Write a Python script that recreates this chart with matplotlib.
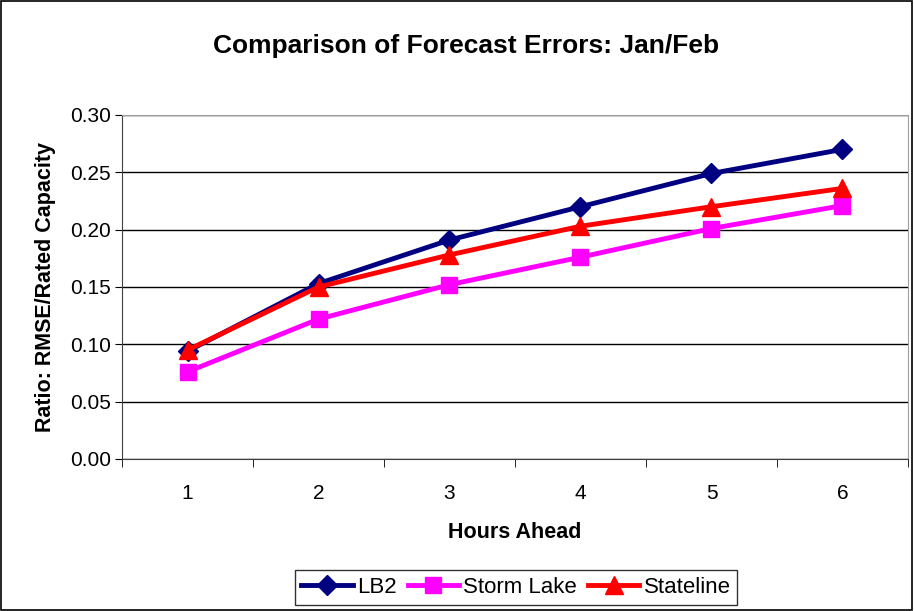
import matplotlib
matplotlib.use("Agg")
import matplotlib.pyplot as plt
from matplotlib.patches import Rectangle

plt.rcParams['font.family'] = ['Liberation Sans', 'DejaVu Sans']

hours = [1, 2, 3, 4, 5, 6]
lb2 = [0.094, 0.153, 0.191, 0.220, 0.249, 0.270]
storm_lake = [0.076, 0.122, 0.152, 0.176, 0.201, 0.221]
stateline = [0.095, 0.150, 0.178, 0.203, 0.220, 0.236]
yticks = [0.00, 0.05, 0.10, 0.15, 0.20, 0.25, 0.30]

fig = plt.figure(figsize=(9.14, 6.11), dpi=100)
fig.patches.append(Rectangle((0.001, 0.001), 0.997, 0.997, transform=fig.transFigure,
                             fill=False, edgecolor='black', linewidth=1.2))
ax = fig.add_axes([0.1335, 0.2488, 0.8599, 0.5630])

ax.plot(hours, lb2, color='#000080', lw=3.5, marker='D', ms=10, label='LB2', zorder=3)
ax.plot(hours, storm_lake, color='#FF00FF', lw=3.5, marker='s', ms=11, label='Storm Lake', zorder=3)
ax.plot(hours, stateline, color='#FF0000', lw=3.5, marker='^', ms=13, label='Stateline', zorder=4)

ax.set_xlim(0.5, 6.5)
ax.set_ylim(0, 0.30)
ax.set_yticks(yticks)
ax.set_yticklabels([f"{v:.2f}" for v in yticks])
ax.set_xticks(hours)
ax.set_xticks([h + 0.5 for h in [0] + hours], minor=True)
ax.tick_params(axis='x', which='major', length=0, pad=18, labelsize=15)
ax.tick_params(axis='x', which='minor', length=6, direction='out', color='black')
ax.tick_params(axis='y', length=5, direction='out', labelsize=15, pad=3)
ax.grid(axis='y', color='black', linewidth=1.0, zorder=0)
ax.set_axisbelow(True)
for s in ['top', 'right']:
    ax.spines[s].set_color('#A0A0A0')
for s in ['left', 'bottom']:
    ax.spines[s].set_color('#404040')

ax.set_xlabel('Hours Ahead', fontsize=15.5, fontweight='bold', labelpad=14)
ax.set_ylabel('Ratio: RMSE/Rated Capacity', fontsize=15.5, fontweight='bold', labelpad=10)
fig.text(0.51, 0.925, 'Comparison of Forecast Errors: Jan/Feb', ha='center', va='center',
         fontsize=19, fontweight='bold')

leg = fig.legend(loc='center', bbox_to_anchor=(0.5646, 0.0385), ncol=3, fontsize=16,
                 frameon=True, fancybox=False, edgecolor='black', handlelength=2.3,
                 handletextpad=0.2, columnspacing=0.5, borderpad=0.3)
leg.get_frame().set_linewidth(1.0)

fig.savefig('out.png', dpi=100)
